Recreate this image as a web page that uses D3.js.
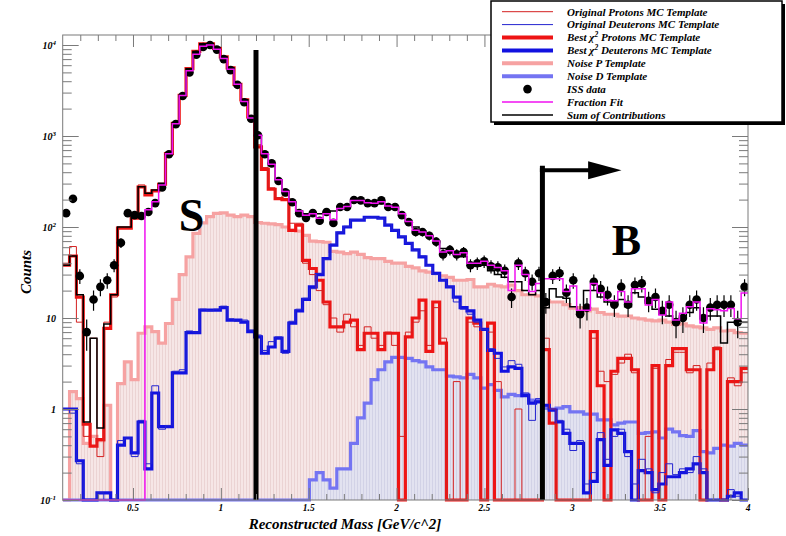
<!DOCTYPE html>
<html>
<head>
<meta charset="utf-8">
<script src="https://cdn.jsdelivr.net/npm/d3@7"></script>
<style>
  body { margin: 0; background: #fff; }
  text { font-family: "Liberation Serif", "Times New Roman", serif; font-weight: bold; font-style: italic; }
</style>
</head>
<body>
<svg id="chart" width="786" height="536"></svg>
<script>
// binning of all templates (GeV/c^2)
var binLow = 0.1;
var binWidth = 0.039;

// ISS data
var issData = [142,204,29,7,16,22,26,38,67,142,
  135,132,146,183,272,630,1350,2750,5000,7800,
  9500,10000,8900,7000,5300,3650,2350,1550,1020,630,
  500,320,240,187,142,126,142,117,146,111,
  166,166,198,196,183,183,196,166,166,135,
  113,88,88,80,69,50,56,50,53,38,
  40,42,37,36,33,17,40,31,25,31,
  15,29,31,19,26,11,13,25,21,18,
  14,22,14,23,24,15.5,17,12,14,9,
  10,14,16,10,13,14,14,14,9,22];

// best chi2 protons template
var bestP = [38,48,17,0.68,0.39,0.46,7.7,18,97,97,
  125,275,225,250,295,640,1380,2800,5500,8500,
  10300,10300,9200,7400,5600,3700,2500,1620,760,430,
  260,205,200,92,105,43,35,26,15,8,
  8,9,9.5,4.5,6.8,6.8,4.5,6.8,6.8,0,
  6.2,10,15.7,4.3,15,5.3,0,0,0,10,
  8.8,0,8.8,0,0,0,0,0,0,0,
  4.5,0.7,0,0,0,0,0,7.1,1.8,0,
  2.6,3.6,3.6,2.7,0,0,3.0,0,3.0,4.6,
  4.6,2.7,2.7,0,2.7,4.6,0,2.0,2.0,2.8];

// original protons MC template
var origP = [40,61,9,0.5,6,0.3,9,17,100,100,
  130,290,240,255,300,650,1400,2850,5600,8600,
  10400,10400,9300,7500,5700,3750,2550,1650,800,450,
  270,210,220,110,110,40,30,20,14,10,
  7,11,8,5,8,6,5,7,5,0.5,
  7,9,12,5,13,6,0,2,0,9,
  8,0,7,2,0,0,1,0,0,0,
  6,1,0,0,0,0,0,6,2.6,2,
  2.4,3.2,4,2.5,0,0.5,2.8,0,3.5,4.2,
  4.2,2.5,3,0,3.2,4.8,0,2.2,1.8,2.5];

// best chi2 deuterons template
var bestD = [1,1,0.27,0,0,0.12,0.12,0,0.4,0.48,
  0.33,0.72,0.22,1.5,0.64,0.64,2.5,2.5,6.9,6.9,
  12.2,12.2,12.2,13,9.5,9.5,9,7.1,6.2,4.1,
  4.8,6,4.3,8.8,12,16,22,30,45,63,
  86,100,119,119,128,128,125,105,92,78,
  66,56,47,38,31,26,22,17,13,12,
  9.5,7.5,4.4,4.1,2.6,2.9,2.8,1.4,1.16,1.2,
  1.1,0.97,0.72,0.54,0.42,0.42,0.12,0.16,0.46,0.24,
  0.59,0.54,0.34,0,0.21,0.2,0.13,0.15,0.18,0.18,
  0.2,0.22,0.25,0.2,0,0,0,0.11,0.12,0];

// original deuterons MC template
var origD = [1,0.9,0.25,0,0,0.12,0.1,0,0.45,0.48,
  0.3,0.75,0.25,1.8,0.6,0.66,2.6,2.7,7.2,7,
  12.5,12,12.5,13.5,9.8,9.2,9.5,7.4,6.5,4.4,
  5.5,6.2,4.1,9.2,12.5,16.5,21,31,44,65,
  88,102,121,120,127,129,124,107,93,79,
  67,55,48,38,30,26,22,15,12.5,11,
  9,7.5,4.6,3.6,2.9,3.4,3.1,1.5,0.75,1.3,
  1.0,1.0,0.75,0.6,0.35,0.45,0.15,0.2,0.55,0.28,
  0.5,0.6,0.3,0.15,0.28,0.22,0.12,0.2,0.25,0.19,
  0.22,0.2,0.3,0.22,0.1,0,0,0.13,0.11,0];

// noise templates
var noiseP = [0,1.55,1.3,0.42,0.5,0.45,1.1,0,1.9,3.3,
  2.1,6.8,8,7.1,5.3,8.7,16,30,47,85,
  111,130,141,143,135,130,135,130,112,110,
  108,106,100,92,90,81,70,69,68,54,
  53,51,53,50,46,45,45,42,40,40,
  37,35.5,33,32,31,29,28,26,26,26.5,
  22,22,23.5,22.5,22,23,20,18,18,17.5,
  15.5,15,15,14,12.8,13,12,12.5,11.5,11,
  11,10.5,10.5,10,9.8,9.5,9.3,9.5,9,8.5,
  8.6,8.2,8,7.8,7.5,7.8,7.2,7.3,6.9,6.8];

var noiseD = [0,0,0,0,0,0,0,0,0,0,
  0,0,0,0,0,0,0,0,0,0,
  0,0,0,0,0,0,0,0,0,0,
  0,0,0,0,0,0,0.166,0.2,0.166,0.135,
  0.22,0.22,0.42,0.8,1.16,2.1,2.7,3.3,3.7,3.7,
  3.6,3.4,3.3,2.9,2.7,2.7,2.3,2.25,2.2,2.4,
  2.2,1.7,1.85,1.6,1.36,1.45,1.4,1.45,1.25,1.25,
  1.06,1.0,1.02,1.06,0.93,0.93,0.88,0.88,0.76,0.76,
  0.67,0.7,0.72,0.72,0.54,0.55,0.56,0.48,0.6,0.56,
  0.51,0.5,0.58,0.34,0.33,0.37,0.4,0.39,0.42,0.4];

// fraction fit and sum of contributions
var fractionFit = [0,0,0,0,0,0,0,0,0,0,
  0,0,155,190,290,640,1360,2780,5200,7900,
  9700,10000,9000,7100,5400,3700,2400,1580,1020,640,
  490,330,245,190,150,135,140,125,140,120,
  160,168,195,195,185,182,190,170,165,140,
  115,92,88,80,70,53,55,50,52,40,
  40,42,38,36,33,20,38,30,19.5,24,
  27,27,27,19.5,22.5,12.2,12.2,24,19,15.7,
  15.5,19.5,15,21,21,13.9,16,10.8,15,9.5,
  11.3,13.3,15,8.8,12.6,12.3,12,12.7,9.8,18.8];

var sumContrib = [38,48,18,0.72,6,0.62,8.6,18,100,100,
  130,277,235,255,303,650,1400,2800,5500,8500,
  10300,10300,9200,7400,5600,3700,2500,1620,1000,620,
  470,330,250,190,150,140,140,140,145,150,
  165,170,190,190,190,185,180,170,160,140,
  115,100,90,80,70,58,55,50,47,40,
  37,38,33,30,28,25,25,20,18,20,
  13,21,17,16.5,13.3,11.3,20,20,17,15,
  14,16,13.3,19,17,14.5,12.5,11,10.5,9.5,
  10.5,11.5,13,10.5,10.5,10.5,5.3,9,9,9];

// cuts
var cutS = 1.2;
var cutB = 2.83;

var xTicks = [0.5, 1, 1.5, 2, 2.5, 3, 3.5, 4];
var xTickLabels = ["0.5", "1", "1.5", "2", "2.5", "3", "3.5", "4"];
var yTicks = [0.1, 1, 10, 100, 1000, 10000];
var yTickBase = ["10", "1", "10", "10", "10", "10"];
var yTickSup = ["-1", "", "", "2", "3", "4"];

var svg = d3.select("#chart");
var frame = {left: 62.7, right: 748, top: 35, bottom: 500};

var x = d3.scaleLinear().domain([0.1, 4]).range([frame.left, frame.right]);
var y = d3.scaleLog().domain([0.1, 12880]).range([frame.bottom, frame.top]).clamp(true);

function yv(v) { return y(Math.max(v, 0.1)); }
function steps(vals) {
  var pts = vals.map(function (v, i) { return {x: binLow + i * binWidth, v: v}; });
  pts.push({x: binLow + vals.length * binWidth, v: vals[vals.length - 1]});
  return pts;
}

var stepLine = d3.line().curve(d3.curveStepAfter).x(d => x(d.x)).y(d => yv(d.v));
var stepArea = d3.area().curve(d3.curveStepAfter).x(d => x(d.x)).y0(frame.bottom).y1(d => yv(d.v));

var defs = svg.append("defs");
defs.append("clipPath").attr("id", "clip")
  .append("rect").attr("x", frame.left).attr("y", frame.top)
  .attr("width", frame.right - frame.left).attr("height", frame.bottom - frame.top + 2.5);

function hatch(id, bg, fg) {
  var p = defs.append("pattern").attr("id", id).attr("width", 3).attr("height", 10)
    .attr("patternUnits", "userSpaceOnUse");
  p.append("rect").attr("width", 3).attr("height", 10).attr("fill", bg);
  p.append("rect").attr("width", 1).attr("height", 10).attr("fill", fg);
}
hatch("hatchP", "#f6e6e6", "#ebd3d3");
hatch("hatchD", "#e2e2f0", "#d2d2e6");

var g = svg.append("g").attr("clip-path", "url(#clip)");

// noise fills
g.append("path").attr("d", stepArea(steps(noiseP))).attr("fill", "url(#hatchP)");
g.append("path").attr("d", stepArea(steps(noiseD))).attr("fill", "url(#hatchD)");

function hist(vals, color, w) {
  g.append("path").attr("d", stepLine(steps(vals)))
    .attr("fill", "none").attr("stroke", color).attr("stroke-width", w)
    .attr("stroke-linejoin", "miter");
}

hist(noiseP, "#f6a2a2", 3.2);
hist(noiseD, "#7474f2", 3.2);
hist(bestP, "#ee1414", 3.2);
hist(bestD, "#1212e0", 3.2);
hist(origP, "#d42020", 1);
hist(origD, "#2424d0", 1);
hist(sumContrib, "#000", 1.5);

// ISS data points
var pts = issData.map(function (v, i) { return {x: binLow + (i + 0.5) * binWidth, v: v}; })
  .filter(d => d.v > 0);
g.selectAll("line.err").data(pts).enter().append("line")
  .attr("x1", d => x(d.x)).attr("x2", d => x(d.x))
  .attr("y1", d => yv(d.v + Math.sqrt(d.v)))
  .attr("y2", d => yv(d.v - Math.sqrt(d.v)))
  .attr("stroke", "#000").attr("stroke-width", 1.2);
g.selectAll("circle.pt").data(pts).enter().append("circle")
  .attr("cx", d => x(d.x)).attr("cy", d => yv(d.v)).attr("r", 4.3).attr("fill", "#000");

hist(fractionFit, "#f010f0", 1.5);

// cut lines
g.append("line").attr("x1", x(cutS)).attr("x2", x(cutS))
  .attr("y1", y(8800)).attr("y2", frame.bottom)
  .attr("stroke", "#000").attr("stroke-width", 5);
g.append("line").attr("x1", x(cutB)).attr("x2", x(cutB))
  .attr("y1", y(470)).attr("y2", frame.bottom)
  .attr("stroke", "#000").attr("stroke-width", 5);
g.append("line").attr("x1", x(cutB) - 2.5).attr("x2", x(3.2))
  .attr("y1", y(420)).attr("y2", y(420))
  .attr("stroke", "#000").attr("stroke-width", 4);
g.append("path")
  .attr("d", d3.line()([[x(3.09), y(420) - 9], [x(3.28), y(420)], [x(3.09), y(420) + 9]]))
  .attr("fill", "#000");

svg.append("text").attr("x", x(0.76)).attr("y", y(90)).text("S")
  .style("font-style", "normal").attr("font-size", 46);
svg.append("text").attr("x", x(3.225)).attr("y", y(49)).text("B")
  .style("font-style", "normal").attr("font-size", 44);

// axes / ticks
var axisCol = "#7a7a7a";
function minorLog() {
  var out = [];
  [0.1, 1, 10, 100, 1000, 10000].forEach(function (d) {
    for (var k = 2; k <= 9; k++) if (k * d <= 12880) out.push(k * d);
  });
  return out;
}
var minorX = d3.range(2, 40).map(i => i / 10).filter(v => xTicks.indexOf(v) < 0);

function addAxis(axis, tx, ty) {
  var a = svg.append("g").attr("transform", "translate(" + tx + "," + ty + ")").call(axis);
  a.select(".domain").remove();
  a.selectAll("line").attr("stroke", axisCol);
  a.selectAll("text").remove();
}
addAxis(d3.axisLeft(y).tickValues(yTicks).tickSize(-16), frame.left, 0);
addAxis(d3.axisLeft(y).tickValues(minorLog()).tickSize(-9), frame.left, 0);
addAxis(d3.axisRight(y).tickValues(yTicks).tickSize(-16), frame.right, 0);
addAxis(d3.axisRight(y).tickValues(minorLog()).tickSize(-9), frame.right, 0);
addAxis(d3.axisBottom(x).tickValues(xTicks).tickSize(-12), 0, frame.bottom);
addAxis(d3.axisBottom(x).tickValues(minorX).tickSize(-6), 0, frame.bottom);
addAxis(d3.axisTop(x).tickValues(xTicks).tickSize(-12), 0, frame.top);
addAxis(d3.axisTop(x).tickValues(minorX).tickSize(-6), 0, frame.top);

svg.append("rect").attr("x", frame.left).attr("y", frame.top)
  .attr("width", frame.right - frame.left).attr("height", frame.bottom - frame.top)
  .attr("fill", "none").attr("stroke", axisCol).attr("stroke-width", 1);

xTicks.forEach(function (v, i) {
  svg.append("text").attr("x", x(v)).attr("y", 511).attr("text-anchor", "middle")
    .attr("font-size", 9.5).text(xTickLabels[i]);
});
yTicks.forEach(function (v, i) {
  var t = svg.append("text").attr("x", 56).attr("y", y(v) + 3.5)
    .attr("text-anchor", "end").attr("font-size", 10);
  t.append("tspan").text(yTickBase[i]);
  if (yTickSup[i]) t.append("tspan").attr("font-size", 7).attr("dy", -4).text(yTickSup[i]);
});

svg.append("text").attr("x", 345).attr("y", 529).attr("text-anchor", "middle")
  .attr("font-size", 15).text("Reconstructed Mass [GeV/c^2]");
svg.append("text").attr("transform", "translate(31,272) rotate(-90)")
  .attr("text-anchor", "middle").attr("font-size", 15).text("Counts");

// legend
var legendNames = ["Original Protons MC Template", "Original Deuterons MC Template",
  "Best  \u03c7|2| Protons MC Template", "Best  \u03c7|2| Deuterons MC Template",
  "Noise P Template", "Noise D Template", "ISS data", "Fraction Fit", "Sum of Contributions"];
var legendColors = ["#d42020", "#2424d0", "#ee1414", "#1212e0", "#f6a2a2", "#7474f2", "#000", "#f010f0", "#000"];
var legendWidths = [1, 1, 4, 4, 4, 4, 0, 1.5, 1.5];

var lg = svg.append("g");
lg.append("rect").attr("x", 494).attr("y", 4).attr("width", 291).attr("height", 121).attr("fill", "#000");
lg.append("rect").attr("x", 491).attr("y", 1).attr("width", 291).attr("height", 121)
  .attr("fill", "#fff").attr("stroke", "#000").attr("stroke-width", 1.5);

legendNames.forEach(function (name, k) {
  var cy = 11.7 + 12.9 * k;
  if (legendWidths[k] > 0) {
    lg.append("line").attr("x1", 502).attr("x2", 553).attr("y1", cy).attr("y2", cy)
      .attr("stroke", legendColors[k]).attr("stroke-width", legendWidths[k]);
  } else {
    lg.append("circle").attr("cx", 527.5).attr("cy", cy).attr("r", 4.3).attr("fill", "#000");
  }
  var t = lg.append("text").attr("x", 567).attr("y", cy + 3.8).attr("font-size", 11);
  var parts = name.split("|");
  t.append("tspan").text(parts[0]);
  if (parts.length > 1) {
    t.append("tspan").attr("font-size", 7.5).attr("dy", -4).text(parts[1]);
    t.append("tspan").attr("dy", 4).text(parts[2]);
  }
});
</script>
</body>
</html>
